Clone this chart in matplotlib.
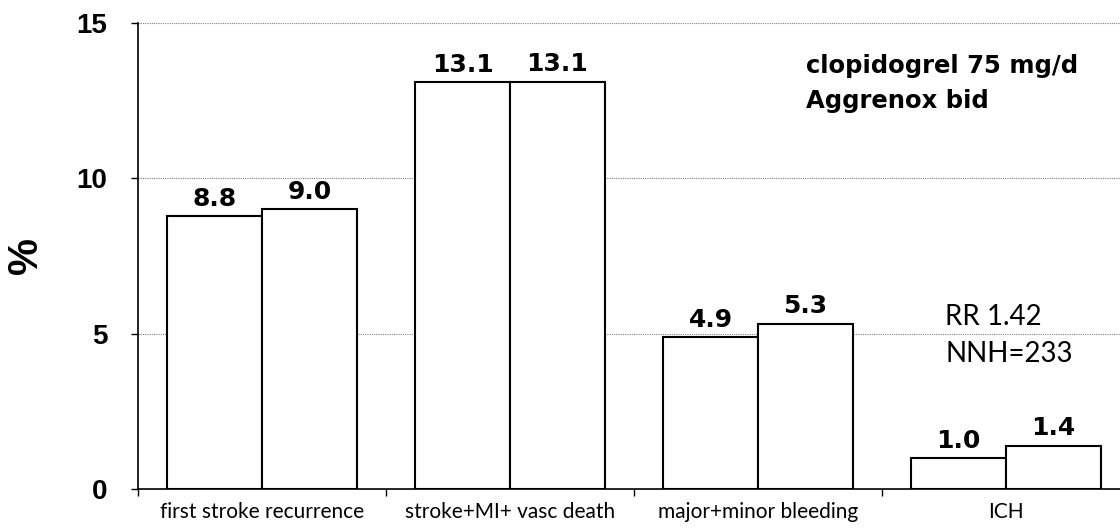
import matplotlib
matplotlib.use("Agg")
import matplotlib.pyplot as plt
import numpy as np

categories = ["first stroke recurrence", "stroke+MI+ vasc death",
              "major+minor bleeding", "ICH"]
clopidogrel = [8.8, 13.1, 4.9, 1.0]
aggrenox = [9.0, 13.1, 5.3, 1.4]
yticks = [0, 5, 10, 15]

W, H = 1120, 529
fig = plt.figure(figsize=(W / 100, H / 100), dpi=100)
ax = fig.add_axes([138 / W, 40 / H, 1 - 138 / W, (489 - 23) / H])


def px(x, y):
    # pixel position (from top-left) -> figure fraction
    return x / W, 1 - y / H


x = np.arange(len(categories))
w = 0.383
bar_kw = dict(color="white", edgecolor="black", linewidth=1.5, zorder=3)
b1 = ax.bar(x - w / 2, clopidogrel, w, **bar_kw)
b2 = ax.bar(x + w / 2, aggrenox, w, **bar_kw)

for rect, v in zip(b1, clopidogrel):
    ax.text(rect.get_x() + rect.get_width() / 2, v + 0.32, f"{v:.1f}",
            ha="center", va="baseline", fontsize=18, fontweight="bold",
            family="DejaVu Sans")
for rect, v in zip(b2, aggrenox):
    ax.text(rect.get_x() + rect.get_width() / 2, v + 0.35, f"{v:.1f}",
            ha="center", va="baseline", fontsize=18, fontweight="bold",
            family="DejaVu Sans")

ax.set_xlim(-0.5, -0.5 + (W - 138) / 248)
ax.set_ylim(0, 15)
ax.set_yticks(yticks)
ax.set_yticklabels([str(t) for t in yticks], fontsize=20, fontweight="bold",
                   family="Liberation Sans")
ax.tick_params(axis="y", length=5, width=1, pad=17)
ax.set_xticks(x - 0.5)
ax.set_xticklabels([])
ax.set_xticks(x, minor=True)
ax.set_xticklabels(categories, minor=True, fontsize=15, family="Lato")
ax.tick_params(axis="x", which="major", length=5, width=1, direction="out")
ax.tick_params(axis="x", which="minor", length=0, pad=9)

ax.grid(axis="y", color="gray", linestyle=(0, (1, 1)), linewidth=0.8, zorder=0)
ax.set_axisbelow(True)
ax.spines["top"].set_visible(False)
ax.spines["right"].set_visible(False)
ax.spines["left"].set_linewidth(1.2)
ax.spines["bottom"].set_linewidth(1.2)

ax.set_ylabel("%", fontsize=30, fontweight="bold", family="Liberation Sans",
              labelpad=22)

fig.text(*px(806, 73), "clopidogrel 75 mg/d", fontsize=17.5, fontweight="bold",
         family="DejaVu Sans", ha="left", va="baseline")
fig.text(*px(806, 108), "Aggrenox bid", fontsize=17.5, fontweight="bold",
         family="DejaVu Sans", ha="left", va="baseline")
fig.text(*px(945, 325), "RR 1.42", fontsize=20, family="Lato",
         ha="left", va="baseline")
fig.text(*px(945, 362), "NNH=233", fontsize=20, family="Lato",
         ha="left", va="baseline")

fig.savefig("out.png", dpi=100)
